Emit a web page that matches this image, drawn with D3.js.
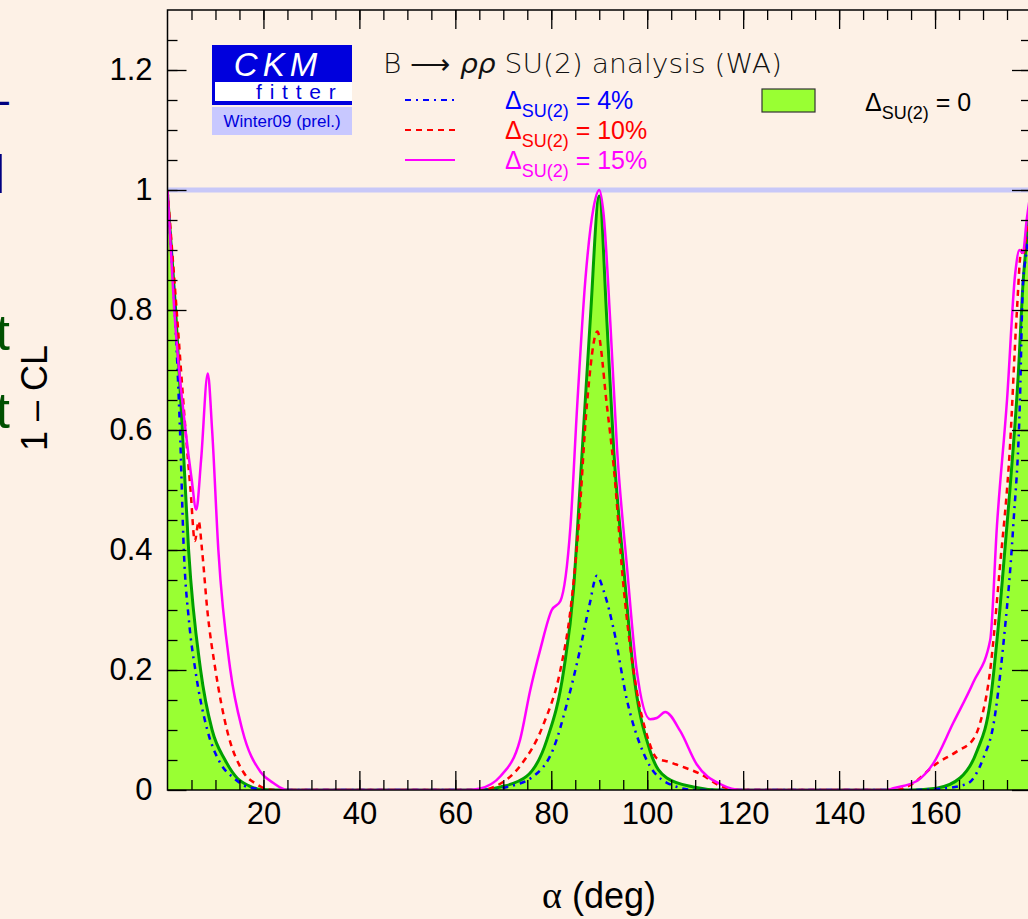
<!DOCTYPE html>
<html>
<head>
<meta charset="utf-8">
<script src="https://cdnjs.cloudflare.com/ajax/libs/d3/7.8.5/d3.min.js"></script>
<style>
  body { margin: 0; background: #fdf1e6; }
  svg { display: block; font-family: "Liberation Sans", Arial, sans-serif; }
</style>
</head>
<body>
<div id="chart"></div>
<script>
// 1 - CL versus alpha, B -> rho rho SU(2) analysis
var width = 1028;
var height = 919;

// Delta SU(2) = 0 (filled green)
var alpha0 = [0, 1.7, 3.1, 4.4, 6.9, 9.3, 12, 14.5, 17, 19.5, 25, 65, 69.4, 74.9, 79.1, 82.6, 84.65, 86, 88.1, 90, 91.6, 93, 95.1, 97.1, 100.6, 104.1, 109.6, 115, 155, 160.3, 165.2, 168.7, 171.5, 173.5, 175.6, 177.4, 178.3, 179.4, 180];
var cl0 = [0.995, 0.8, 0.6, 0.4, 0.2, 0.1, 0.05, 0.02, 0.007, 0.001, 0, 0, 0.005, 0.023, 0.084, 0.2, 0.336, 0.506, 0.78, 0.99, 0.78, 0.57, 0.37, 0.2, 0.065, 0.02, 0.005, 0, 0, 0.003, 0.02, 0.064, 0.147, 0.3, 0.5, 0.7, 0.84, 0.94, 0.99];

// Delta SU(2) = 4%
var alpha4 = [0, 1.5, 2.6, 3.4, 4.5, 5.8, 8.3, 11, 13.8, 16.7, 22, 68, 70.8, 76.3, 80.5, 83.3, 86, 88, 89.5, 91, 93, 95.8, 99.3, 104.1, 110, 155, 161, 166.6, 170.1, 172.2, 174.2, 176.3, 177.7, 178.3, 179.1, 180];
var cl4 = [0.99, 0.8, 0.6, 0.4, 0.28, 0.2, 0.1, 0.045, 0.02, 0.005, 0, 0, 0.005, 0.023, 0.07, 0.145, 0.234, 0.31, 0.357, 0.33, 0.268, 0.149, 0.06, 0.012, 0, 0, 0.002, 0.01, 0.054, 0.11, 0.24, 0.44, 0.65, 0.84, 0.9, 0.99];

// Delta SU(2) = 10%
var alpha10 = [0, 1.9, 3.75, 4.8, 5.7, 6.5, 7.2, 8.3, 10, 12.4, 15.8, 18.5, 22, 66, 68, 73.5, 78.4, 81.9, 84, 85.7, 87.4, 89.6, 91.6, 93, 95.1, 97.8, 100, 102, 104.5, 106.9, 111, 115.2, 119, 152, 154.8, 160.3, 164.5, 168, 169.4, 171.5, 173.5, 175.6, 177, 178, 178.3, 179.1, 180];
var cl10 = [1.0, 0.8, 0.6, 0.5, 0.415, 0.448, 0.4, 0.3, 0.2, 0.1, 0.03, 0.01, 0, 0, 0.005, 0.04, 0.11, 0.2, 0.3, 0.44, 0.64, 0.764, 0.64, 0.54, 0.336, 0.166, 0.09, 0.053, 0.047, 0.04, 0.027, 0.007, 0, 0, 0.008, 0.044, 0.064, 0.085, 0.112, 0.2, 0.37, 0.57, 0.79, 0.9, 0.89, 0.93, 0.99];

// Delta SU(2) = 15%
var alpha15 = [0, 1.4, 3.75, 5, 6.0, 7, 8.4, 9.3, 10.6, 13.1, 15.6, 19.4, 22, 25, 63, 65, 69.4, 73.5, 75.6, 77.7, 80.1, 81.9, 84, 85.4, 87.1, 88.8, 90, 90.9, 92.3, 93.7, 95.8, 97.8, 100.6, 102, 103.75, 106.9, 110.3, 115.2, 120, 150, 151.3, 156.2, 159.6, 163.8, 168, 171.5, 172.9, 175, 176.7, 177.6, 178.3, 179.1, 180];
var cl15 = [1.0, 0.8, 0.6, 0.52, 0.467, 0.55, 0.694, 0.6, 0.4, 0.2, 0.1, 0.03, 0.012, 0, 0, 0.002, 0.023, 0.084, 0.166, 0.234, 0.30, 0.315, 0.44, 0.64, 0.85, 0.97, 1.0, 0.96, 0.78, 0.57, 0.37, 0.2, 0.118, 0.12, 0.13, 0.098, 0.043, 0.01, 0, 0, 0.003, 0.015, 0.044, 0.112, 0.18, 0.25, 0.44, 0.65, 0.86, 0.9, 0.895, 0.95, 1.0];

var xTicks = [20, 40, 60, 80, 100, 120, 140, 160];
var yTicks = [0, 0.2, 0.4, 0.6, 0.8, 1, 1.2];
var legendNames = ["4%", "10%", "15%"];

var x = d3.scaleLinear().domain([0, 180]).range([167.5, 1031]);
var y = d3.scaleLinear().domain([0, 1.3]).range([790, 10]);

var svg = d3.select("#chart")
  .append("svg")
    .attr("width", width)
    .attr("height", height);

svg.append("rect").attr("width", width).attr("height", height).attr("fill", "#fdf1e6");

// bits of slide text cut off at the left edge
var cut = svg.append("g").attr("text-anchor", "end");
cut.append("text").attr("x", 9).attr("y", 116).attr("font-size", 48).attr("fill", "#000080").text("–");
cut.append("text").attr("x", 8).attr("y", 193).attr("font-size", 52).attr("font-weight", 300)
  .attr("font-family", "'DejaVu Sans', sans-serif").attr("fill", "#000080").text("l");
cut.append("text").attr("x", 10).attr("y", 350).attr("font-size", 50).attr("fill", "#005000").text("t");
cut.append("text").attr("x", 10).attr("y", 428).attr("font-size", 50).attr("fill", "#005000").text("t");

svg.append("clipPath").attr("id", "plotclip")
  .append("rect").attr("x", x(0)).attr("y", y(1.3)).attr("width", x(180) - x(0)).attr("height", y(0) - y(1.3));

var plot = svg.append("g").attr("clip-path", "url(#plotclip)");

function pts(a, v) {
  return a.map(function(d, i) { return [d, v[i]]; });
}

var line = d3.line()
  .x(function(d) { return x(d[0]); })
  .y(function(d) { return y(d[1]); })
  .curve(d3.curveMonotoneX);

var area = d3.area()
  .x(function(d) { return x(d[0]); })
  .y0(y(0))
  .y1(function(d) { return y(d[1]); })
  .curve(d3.curveMonotoneX);

plot.append("path").attr("d", area(pts(alpha0, cl0))).attr("fill", "#99ff33");

// 1-CL = 1 reference line
plot.append("line")
  .attr("x1", x(0)).attr("x2", x(180))
  .attr("y1", y(1)).attr("y2", y(1))
  .attr("stroke", "#c8c8f8").attr("stroke-width", 5);

plot.append("path").attr("d", line(pts(alpha0, cl0)))
  .attr("fill", "none").attr("stroke", "#00a000").attr("stroke-width", 3);
plot.append("path").attr("d", line(pts(alpha4, cl4)))
  .attr("fill", "none").attr("stroke", "#0000ff").attr("stroke-width", 2.5)
  .attr("stroke-dasharray", "6,5,2,5");
plot.append("path").attr("d", line(pts(alpha10, cl10)))
  .attr("fill", "none").attr("stroke", "#ff0000").attr("stroke-width", 2.5)
  .attr("stroke-dasharray", "6,5");
plot.append("path").attr("d", line(pts(alpha15, cl15)))
  .attr("fill", "none").attr("stroke", "#ff00ff").attr("stroke-width", 2.5);

// frame
svg.append("rect")
  .attr("x", x(0)).attr("y", y(1.3))
  .attr("width", x(180) - x(0)).attr("height", y(0) - y(1.3))
  .attr("fill", "none").attr("stroke", "#000").attr("stroke-width", 1.5);

var minorX = d3.range(5, 180, 5);
var minorY = d3.range(0.05, 1.3, 0.05);

function styleAxis(g) {
  g.select(".domain").remove();
  g.selectAll(".tick line").attr("stroke", "#000").attr("stroke-width", 1.3);
  g.selectAll("text").attr("fill", "#000").attr("font-size", 31)
    .attr("font-family", "'Liberation Sans', Arial, sans-serif");
}

svg.append("g").attr("transform", "translate(0," + y(0) + ")")
  .call(d3.axisBottom(x).tickValues(minorX).tickSize(-10).tickFormat(""))
  .call(styleAxis);
svg.append("g").attr("transform", "translate(0," + y(0) + ")")
  .call(d3.axisBottom(x).tickValues(xTicks).tickSize(-19).tickPadding(12).tickFormat(d3.format("d")))
  .call(styleAxis);
svg.append("g").attr("transform", "translate(0," + y(1.3) + ")")
  .call(d3.axisTop(x).tickValues(minorX).tickSize(-10).tickFormat(""))
  .call(styleAxis);
svg.append("g").attr("transform", "translate(0," + y(1.3) + ")")
  .call(d3.axisTop(x).tickValues(xTicks).tickSize(-19).tickFormat(""))
  .call(styleAxis);

svg.append("g").attr("transform", "translate(" + x(0) + ",0)")
  .call(d3.axisLeft(y).tickValues(minorY).tickSize(-10).tickFormat(""))
  .call(styleAxis);
svg.append("g").attr("transform", "translate(" + x(0) + ",0)")
  .call(d3.axisLeft(y).tickValues(yTicks).tickSize(-19).tickPadding(15).tickFormat(d3.format("")))
  .call(styleAxis);
svg.append("g").attr("transform", "translate(" + x(180) + ",0)")
  .call(d3.axisRight(y).tickValues(minorY).tickSize(-10).tickFormat(""))
  .call(styleAxis);
svg.append("g").attr("transform", "translate(" + x(180) + ",0)")
  .call(d3.axisRight(y).tickValues(yTicks).tickSize(-19).tickFormat(""))
  .call(styleAxis);

// axis titles
var xt = svg.append("text")
  .attr("x", 599).attr("y", 908)
  .attr("text-anchor", "middle").attr("font-size", 36);
xt.append("tspan").attr("font-family", "'Liberation Serif', serif").attr("font-size", 38).text("α");
xt.append("tspan").text(" (deg)");
svg.append("text")
  .attr("transform", "translate(47,398) rotate(-90)")
  .attr("text-anchor", "middle").attr("font-size", 36)
  .text("1 – CL");

// CKMfitter logo
var logo = svg.append("g");
logo.append("rect").attr("x", 212).attr("y", 45).attr("width", 140).attr("height", 60).attr("fill", "#0000dd");
logo.append("rect").attr("x", 215).attr("y", 82).attr("width", 137).attr("height", 19).attr("fill", "#ffffff");
logo.append("text").attr("x", 278).attr("y", 76).attr("text-anchor", "middle")
  .attr("font-size", 33).attr("font-style", "italic").attr("letter-spacing", 5)
  .attr("fill", "#ffffff").text("CKM");
logo.append("text").attr("x", 256).attr("y", 99)
  .attr("font-size", 21).attr("letter-spacing", 7.8)
  .attr("fill", "#0000dd").text("fitter");
logo.append("rect").attr("x", 212).attr("y", 107).attr("width", 140).attr("height", 28).attr("fill", "#c8c8ff");
logo.append("text").attr("x", 282).attr("y", 127).attr("text-anchor", "middle")
  .attr("font-size", 17).attr("fill", "#0000dd").text("Winter09 (prel.)");

// title
var title = svg.append("text")
  .attr("x", 383).attr("y", 73)
  .attr("font-family", "'DejaVu Sans', sans-serif").attr("font-weight", 200)
  .attr("font-size", 27).attr("textLength", 399).attr("lengthAdjust", "spacingAndGlyphs")
  .attr("fill", "#111");
title.append("tspan").text("B ⟶ ");
title.append("tspan").attr("font-style", "italic").text("ρρ");
title.append("tspan").text(" SU(2) analysis (WA)");

// legend
var legColors = ["#0000ff", "#ff0000", "#ff00ff"];
var legDash = ["6,5,2,5", "6,5", null];
var legend = svg.append("g");
legendNames.forEach(function(name, i) {
  var ly = 100 + i * 30;
  legend.append("line")
    .attr("x1", 405).attr("x2", 455).attr("y1", ly).attr("y2", ly)
    .attr("stroke", legColors[i]).attr("stroke-width", 2)
    .attr("stroke-dasharray", legDash[i]);
  var t = legend.append("text").attr("x", 505).attr("y", ly + 9)
    .attr("font-size", 25).attr("fill", legColors[i]);
  t.append("tspan").text("Δ");
  t.append("tspan").attr("dy", 8).attr("font-size", 18).text("SU(2)");
  t.append("tspan").attr("dy", -8).text(" = " + name);
});

legend.append("rect").attr("x", 762).attr("y", 89).attr("width", 53).attr("height", 23)
  .attr("fill", "#99ff33").attr("stroke", "#333").attr("stroke-width", 1.2);
var t0 = legend.append("text").attr("x", 865).attr("y", 111).attr("font-size", 25).attr("fill", "#000");
t0.append("tspan").text("Δ");
t0.append("tspan").attr("dy", 8).attr("font-size", 18).text("SU(2)");
t0.append("tspan").attr("dy", -8).text(" = 0");
</script>
</body>
</html>
